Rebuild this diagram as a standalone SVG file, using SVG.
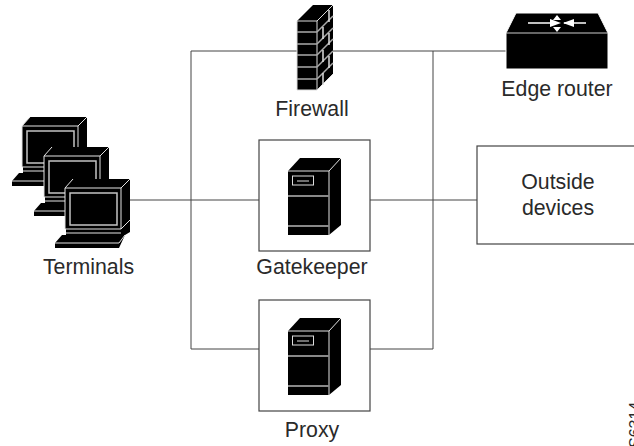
<svg xmlns="http://www.w3.org/2000/svg" width="634" height="446" viewBox="0 0 634 446">
<style>
text{font-family:"Liberation Sans",Arial,sans-serif;font-size:21.300px;fill:#2a2a2a;text-anchor:middle}
.c{fill:none;stroke:#444;stroke-width:1}
.b{fill:#fff;stroke:#444;stroke-width:1.200}
.w{fill:none;stroke:#e4e4e4;stroke-width:1}
.g{fill:none;stroke:#999;stroke-width:1.500}
</style>
<defs>
<g id="server">
<path d="M288 171 L300 158 H341 V225 L329 235 H288 Z" fill="#000"/>
<path class="w" d="M288 171 H329 L341 158 M329 171 V235"/>
<path d="M288 196 H329 M288 226 H329" fill="none" stroke="#888" stroke-width="2"/>
<rect x="292.500" y="176" width="21" height="9" fill="none" stroke="#ddd"/>
<path d="M297 181 H309" stroke="#ddd"/>
</g>
<g id="term">
<path d="M0 9 L8 0 H65 V53 L60 56 L54 69 H-10 V64 L-3 56 H1 V50 H0 Z" fill="#000"/>
<path class="w" d="M0 9 L8 0 M0 9 H56 L65 0 M56 9 V50 M0 9 V50 H56 L65 41 M1 54 H56 M-10 64 H54 L60 56"/>
<rect x="5" y="14" width="47" height="32" fill="none" stroke="#c4c4c4" stroke-width="1.500"/>
</g>
</defs>
<g id="connectors">
<path class="c" d="M130 200 H259 M370 200 H477 M191 200 V51 H297 M333 51 H520 M191 200 V349 H259 M370 349 H433 V51"/>
</g>
<g id="firewall">
<path d="M297 21 L313 5 H333 V74 L317 90 H297 Z" fill="#000"/>
<path d="M297 21 H317 L333 5 M317 21 V90 M297 21 V90 H317 L333 74" fill="none" stroke="#ddd"/>
<path d="M297 32 H317 M297 44 H317 M297 55 H317 M297 67 H317 M297 79 H317 M317 32 L333 16 M317 44 L333 28 M317 55 L333 39 M317 67 L333 51 M317 79 L333 63" fill="none" stroke="#aaa" stroke-width="1.500"/>
<path d="M329 10 V22 M323 27 V39 M329 33 V45 M323 50 V62 M329 56 V68 M323 73 V85" fill="none" stroke="#ddd" stroke-width="1.500"/>
<text x="312" y="116">Firewall</text>
</g>
<g id="edge-router">
<path d="M506 33 L516 13 H598 L608 33 V69 H506 Z" fill="#000" stroke="#fff"/>
<path d="M506 33 H608" stroke="#ccc"/>
<path d="M528 23 H552 M586 23 H564" stroke="#fff" stroke-width="1.500"/>
<path d="M550 19 L561 23 L550 27 Z M574 19 L563 23 L574 27 Z M557 15 L553 20 H561 Z M557 32 L553 27 H561 Z" fill="#fff"/>
<path d="M557 19 V20 M557 27 V28" stroke="#fff" stroke-width="2"/>
<text x="557" y="96">Edge router</text>
</g>
<g id="terminals">
<use href="#term" x="22" y="117"/>
<use href="#term" x="44" y="147"/>
<use href="#term" x="65" y="179"/>
<text x="88.500" y="274">Terminals</text>
</g>
<g id="gatekeeper">
<rect class="b" x="259" y="140" width="111" height="111"/>
<use href="#server"/>
<text x="312" y="274">Gatekeeper</text>
</g>
<g id="proxy">
<rect class="b" x="259" y="300" width="111" height="111"/>
<use href="#server" y="160"/>
<text x="312" y="437">Proxy</text>
</g>
<g id="outside-devices">
<rect class="b" x="477" y="146" width="160" height="98"/>
<text x="558" y="189">Outside</text>
<text x="558" y="215">devices</text>
</g>
<text transform="translate(640.500,448) rotate(-90)" style="font-size:16px;text-anchor:start">S6314</text>
</svg>
